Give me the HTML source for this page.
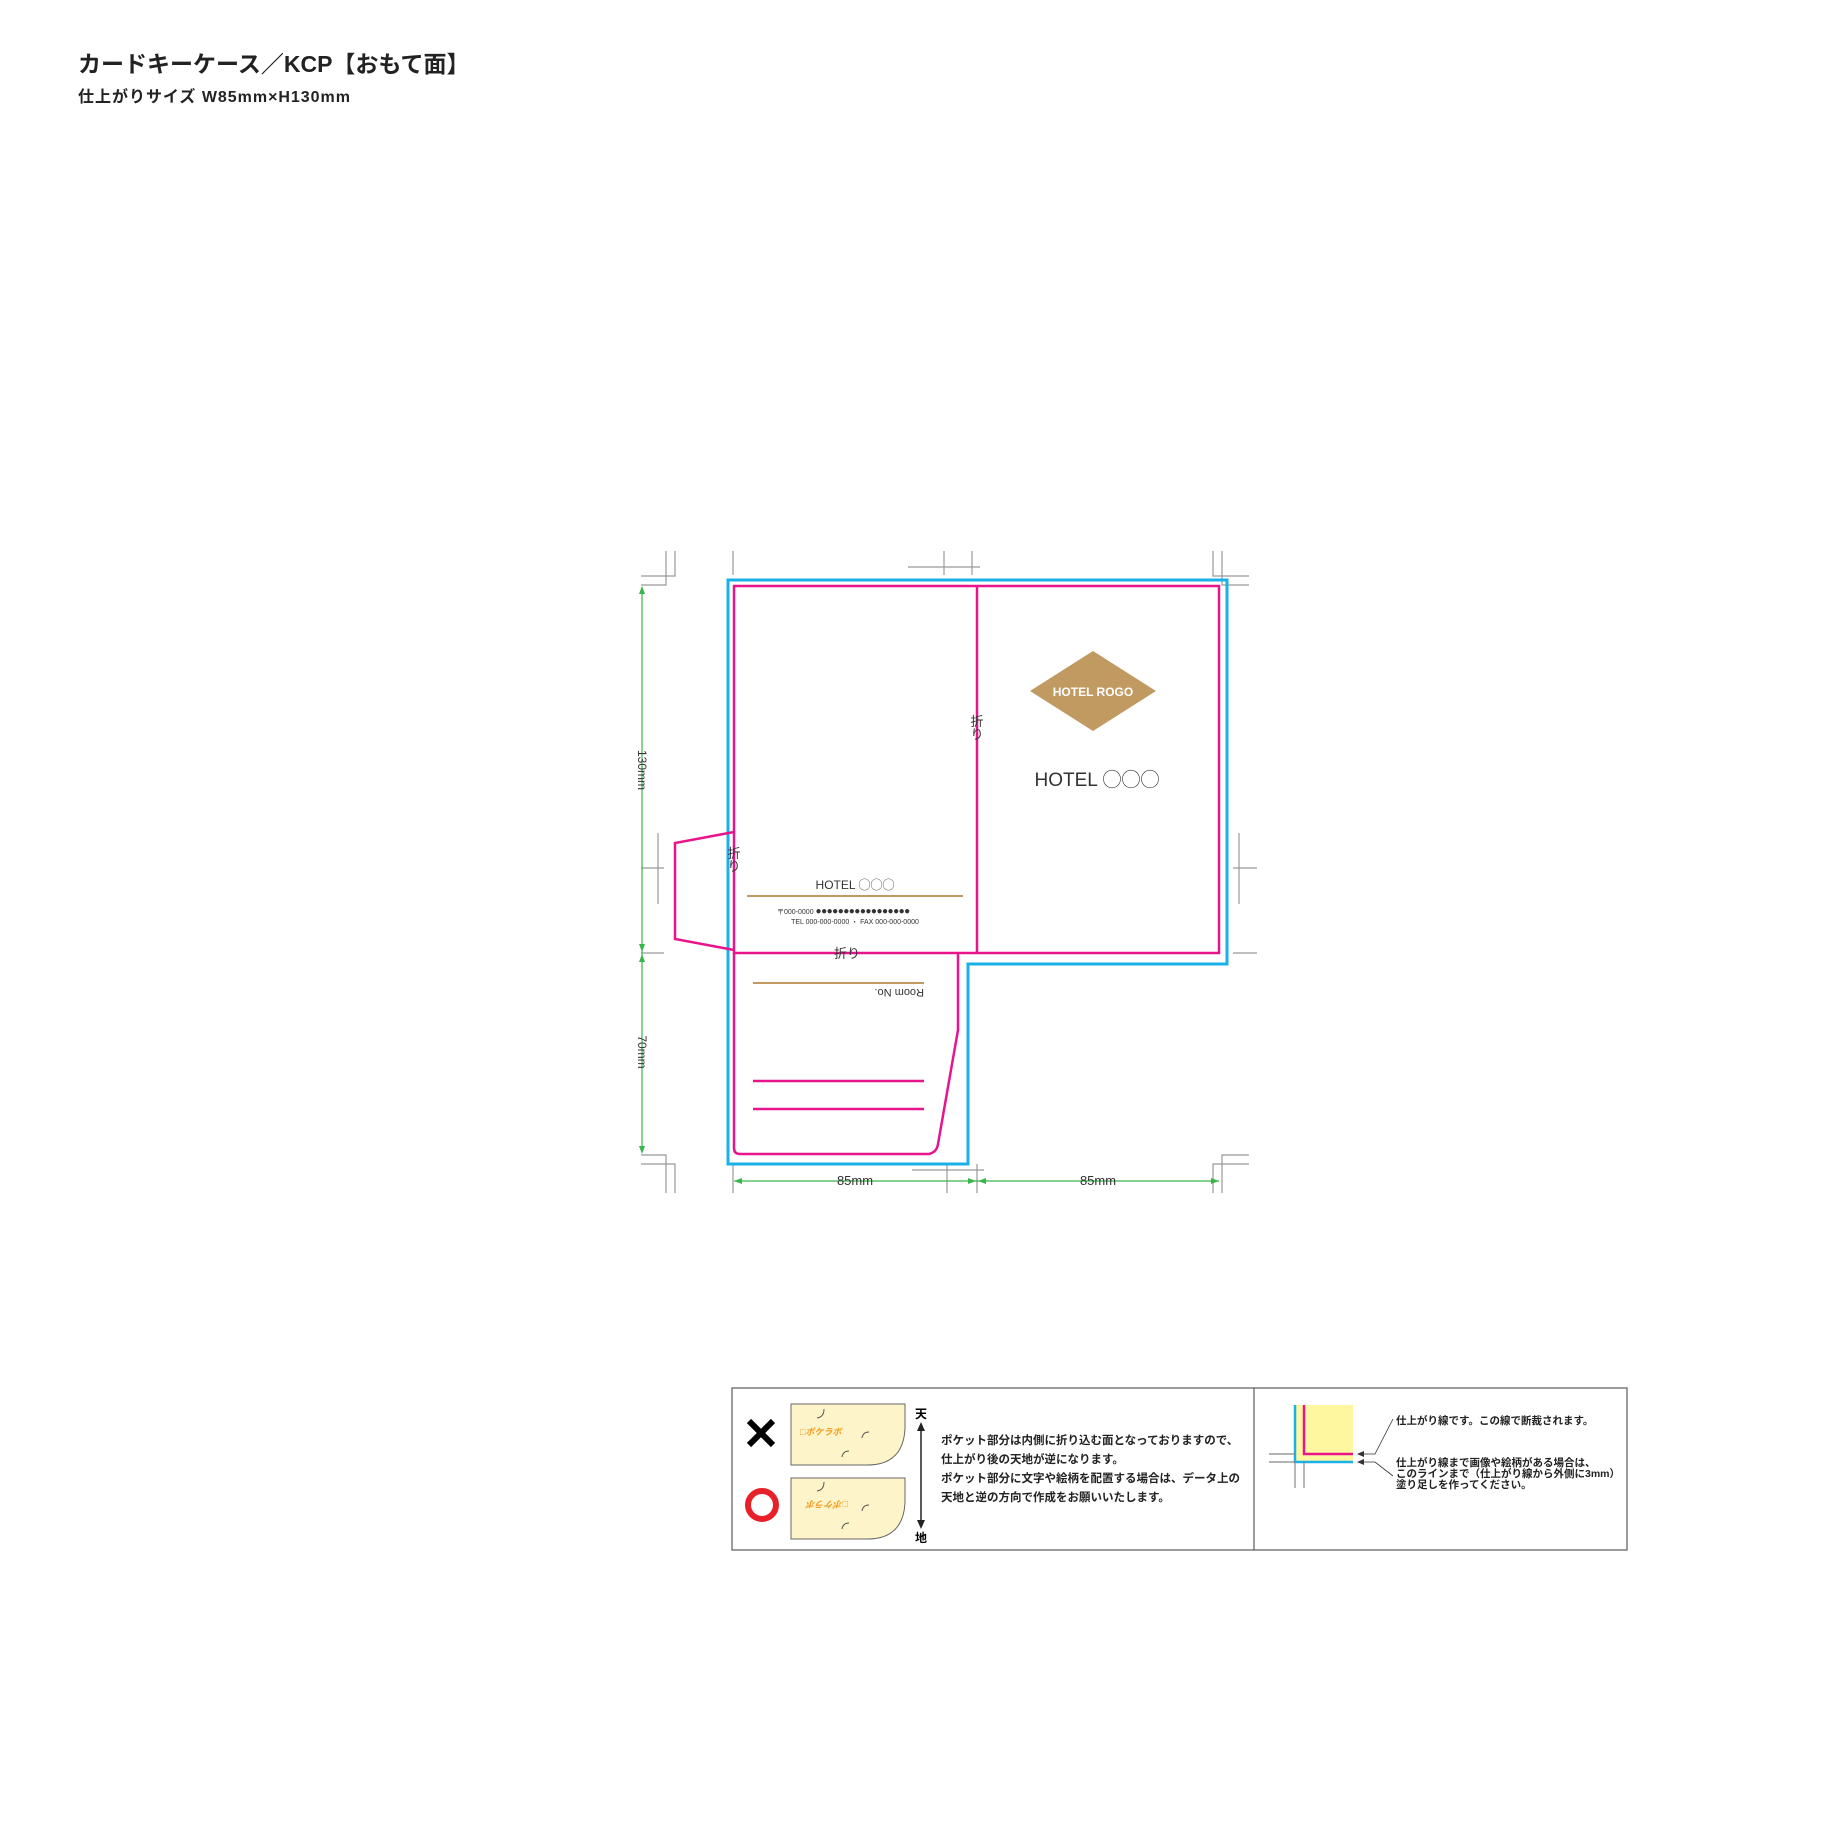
<!DOCTYPE html>
<html><head><meta charset="utf-8"><style>
html,body{margin:0;padding:0;background:#fff;}
svg{display:block;}
text{font-family:"Liberation Sans","Noto Sans CJK JP",sans-serif;}
</style></head><body>
<svg width="1843" height="1843" viewBox="0 0 1843 1843" xmlns="http://www.w3.org/2000/svg">
<text x="78" y="72" font-size="23" font-weight="bold" fill="#222">カードキーケース／KCP【おもて面】</text>
<text x="78" y="102" font-size="16" font-weight="bold" fill="#222" textLength="272">仕上がりサイズ W85mm×H130mm</text>

<g transform="translate(-3,-2)">
<!-- crop marks -->
<g stroke="#999" stroke-width="1.2" fill="none">
<path d="M669 553V587H644 M678 553V578H644"/>
<path d="M736 553V577"/>
<path d="M947 553V577 M975 553V577 M911 569H983"/>
<path d="M1216 553V578H1252 M1225 553V587H1252"/>
<path d="M644 870H667 M661 835V906 M644 955H667"/>
<path d="M1236 870H1260 M1242 835V906 M1236 955H1260"/>
<path d="M644 1157H669V1195 M644 1166H678V1195"/>
<path d="M915 1172H987 M950 1166V1195 M980 1166V1195 M736 1166V1195"/>
<path d="M1252 1157H1225V1195 M1252 1166H1216V1195"/>
</g>

<path d="M731 582H1230V966H971V1166H731Z" fill="none" stroke="#1ab0e8" stroke-width="3"/>

<g fill="none" stroke="#e8148c" stroke-width="2.5">
<rect x="737" y="588" width="485" height="367"/>
<path d="M980 588V955"/>
<path d="M737 955V1150Q737 1156 743 1156H932Q940 1154 941 1146L961 1032V955"/>
<path d="M737 834L678 845V941L737 952"/>
<path d="M756 1083H927 M756 1111H927"/>
</g>

<polygon points="1033,693 1096,653 1159,693 1096,733" fill="#c19a62"/>
<text x="1096" y="698" font-size="12" font-weight="bold" fill="#fff" text-anchor="middle">HOTEL ROGO</text>
<text x="1100" y="788" font-size="19" fill="#333" text-anchor="middle">HOTEL ◯◯◯</text>

<text x="858" y="891" font-size="12" fill="#333" text-anchor="middle">HOTEL ◯◯◯</text>
<line x1="750" y1="898" x2="966" y2="898" stroke="#c19a62" stroke-width="2"/>
<text x="780" y="916" font-size="7" fill="#333">〒000-0000 <tspan font-size="10" letter-spacing="-0.5">●●●●●●●●●●●●●●●●●</tspan></text>
<text x="858" y="926" font-size="7" fill="#333" text-anchor="middle">TEL 000-000-0000 ・ FAX 000-000-0000</text>
<text x="850" y="960" font-size="13" fill="#333" text-anchor="middle">折り</text>
<text x="980" y="728" font-size="13" fill="#333" text-anchor="middle">折</text>
<text x="980" y="741" font-size="13" fill="#333" text-anchor="middle">り</text>
<text x="737" y="860" font-size="13" fill="#333" text-anchor="middle">折</text>
<text x="737" y="873" font-size="13" fill="#333" text-anchor="middle">り</text>

<line x1="756" y1="985" x2="927" y2="985" stroke="#c19a62" stroke-width="2"/>
<text transform="translate(927,991) rotate(180)" font-size="11" fill="#333">Room No.</text>

<g stroke="#3ab54a" stroke-width="1.2" fill="#3ab54a">
<line x1="645" y1="589" x2="645" y2="1154"/>
<path d="M645 588l-3 8h6z M645 954l-3 -8h6z M645 956l-3 8h6z M645 1156l-3 -8h6z" stroke="none"/>
<line x1="737" y1="1183" x2="1222" y2="1183"/>
<path d="M737 1183l8 -3v6z M979 1183l-8 -3v6z M981 1183l8 -3v6z M1222 1183l-8 -3v6z" stroke="none"/>
</g>
<text transform="translate(641,772) rotate(90)" font-size="12" fill="#333" text-anchor="middle">130mm</text>
<text transform="translate(641,1054) rotate(90)" font-size="12" fill="#333" text-anchor="middle">70mm</text>
<text x="858" y="1187" font-size="13" fill="#333" text-anchor="middle">85mm</text>
<text x="1101" y="1187" font-size="13" fill="#333" text-anchor="middle">85mm</text>
</g>

<g transform="translate(-3,-1)">
<rect x="735" y="1389" width="895" height="162" fill="none" stroke="#666" stroke-width="1.3"/>
<line x1="1257" y1="1389" x2="1257" y2="1551" stroke="#666" stroke-width="1.3"/>
<path d="M752 1422L776 1446M776 1422L752 1446" stroke="#000" stroke-width="6"/>
<circle cx="765" cy="1506" r="14" fill="none" stroke="#e8202a" stroke-width="6"/>
<path d="M794 1405H908V1430Q906 1466 870 1466H794Z" fill="#fdf5c9" stroke="#666" stroke-width="1"/>
<path d="M794 1479H908V1504Q906 1540 870 1540H794Z" fill="#fdf5c9" stroke="#666" stroke-width="1"/>
<text x="803" y="1436" font-size="9" font-weight="bold" fill="#f39a1e" font-style="italic">□ポケラボ</text>
<text transform="translate(851,1502) rotate(180)" font-size="9" font-weight="bold" fill="#f39a1e" font-style="italic">□ポケラボ</text>
<g fill="none" stroke="#555" stroke-width="1"><path d="M827 1410q0 8 -7 9 M872 1433q-6 0 -7 6 M852 1452q-6 0 -7 6 M827 1483q0 8 -7 9 M872 1506q-6 0 -7 6 M852 1524q-6 0 -7 6"/></g>
<line x1="924" y1="1428" x2="924" y2="1525" stroke="#222" stroke-width="1.5"/>
<path d="M924 1423l-4 9h8z M924 1530l-4 -9h8z" fill="#222"/>
<text x="924" y="1419" font-size="12" font-weight="bold" text-anchor="middle">天</text>
<text x="924" y="1543" font-size="12" font-weight="bold" text-anchor="middle">地</text>
<g font-size="11.5" font-weight="bold" fill="#222">
<text x="944" y="1445">ポケット部分は内側に折り込む面となっておりますので、</text>
<text x="944" y="1464">仕上がり後の天地が逆になります。</text>
<text x="944" y="1483">ポケット部分に文字や絵柄を配置する場合は、データ上の</text>
<text x="944" y="1502">天地と逆の方向で作成をお願いいたします。</text>
</g>
<rect x="1298" y="1406" width="58" height="57" fill="#fff6a0"/>
<path d="M1298 1406V1463H1356" fill="none" stroke="#1ab0e8" stroke-width="2.5"/>
<path d="M1307 1406V1455H1356" fill="none" stroke="#e8148c" stroke-width="2.5"/>
<g stroke="#888" stroke-width="1.2" fill="none">
<path d="M1272 1455H1298 M1272 1463H1298 M1298 1463V1489 M1307 1463V1489"/>
</g>
<g stroke="#333" stroke-width="0.8" fill="none"><path d="M1363 1455H1378L1396 1420 M1363 1463H1378L1396 1477"/></g>
<path d="M1360 1455l7 -3v6z M1360 1463l7 -3v6z" fill="#333"/>
<g font-size="10.5" font-weight="bold" fill="#222">
<text x="1399" y="1425">仕上がり線です。この線で断裁されます。</text>
<text x="1399" y="1467">仕上がり線まで画像や絵柄がある場合は、</text>
<text x="1399" y="1478">このラインまで（仕上がり線から外側に3mm）</text>
<text x="1399" y="1489">塗り足しを作ってください。</text>
</g>
</g>
</svg>
</body></html>
